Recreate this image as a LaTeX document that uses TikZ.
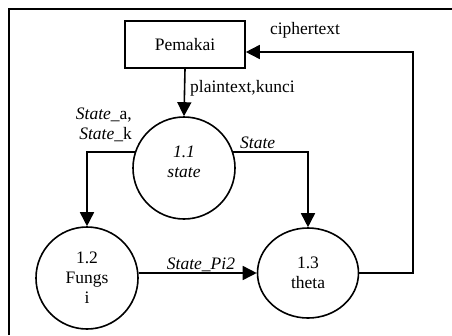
\documentclass[tikz,border=0pt]{standalone}
\usepackage{fontspec}
\setmainfont{Liberation Serif}
\usetikzlibrary{arrows.meta,shapes.geometric}
\begin{document}
\begin{tikzpicture}[x=1pt,y=-1pt,
  every node/.style={font=\fontsize{17.5}{20}\selectfont},
  ln/.style={line width=1.6pt},
  arr/.style={ln,-{Triangle[length=14pt,width=14pt]}},
  proc/.style={draw,circle,line width=1.6pt,minimum size=102pt,inner sep=0pt,align=center},
  procel/.style={draw,ellipse,line width=1.6pt,minimum width=101pt,minimum height=90pt,inner sep=0pt,align=center},
  lbl/.style={inner sep=0pt}]
\useasboundingbox (0,0) rectangle (452,335);
\draw[line width=1.4pt] (9,335) -- (9,9) -- (452,9);
\node[draw,ln,minimum width=120pt,minimum height=47pt,inner sep=0pt] (pem) at (185,44.5) {Pemakai};
\node[proc,label={[yshift=6pt,align=center,font=\fontsize{17.5}{20}\selectfont\itshape]center:1.1\\state}] (c11) at (184,168) {};
\node[proc] (c12) at (87,278) {1.2\\Fungs\\i};
\node[procel] (c13) at (308,273) {1.3\\theta};
\coordinate (rt) at (413,52);
\draw[arr] (pem.south) -- (c11.north);
\draw[arr] (c11.162) -| (c12.north);
\draw[arr] (c11.18) -| (c13.north);
\draw[arr] (c13.west -| c12.east) -- (c13.west);
\draw[arr] (c13.east) -| (rt) -- (pem.east |- rt);
\node[lbl,anchor=west] (lpk) at (190,88) {plaintext,kunci};
\node[lbl] (lct) at (305,30) {ciphertext};
\node[lbl,anchor=east,align=right] (lsa) at (132,125) {\textit{State}\_a,\\\textit{State}\_k};
\node[lbl,anchor=west] (ls) at (240,143) {\textit{State}};
\node[lbl,anchor=base] (lsp) at (201,269) {\textit{State\_Pi2}};
\end{tikzpicture}
\end{document}
